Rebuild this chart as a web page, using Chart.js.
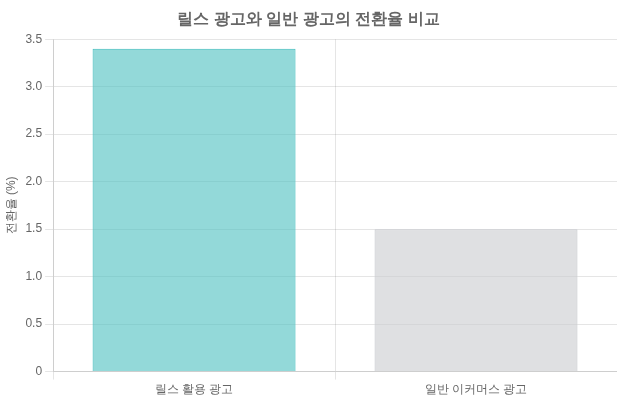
<!DOCTYPE html>
<html lang="ko">
<head>
<meta charset="UTF-8">
<title>릴스 광고와 일반 광고의 전환율 비교</title>
<script src="https://cdn.jsdelivr.net/npm/chart.js"></script>
<style>
  html, body { margin: 0; padding: 0; background: #fff; }
  #wrap { width: 617px; height: 400px; }
</style>
</head>
<body>
<div id="wrap"><canvas id="chart"></canvas></div>
<script>
  const categories = ['릴스 활용 광고', '일반 이커머스 광고'];
  const conversionRates = [3.4, 1.5];
  const barColors = ['rgba(75, 192, 192, 0.6)', 'rgba(201, 203, 207, 0.6)'];
  const borderColors = ['rgba(75, 192, 192, 1)', 'rgba(201, 203, 207, 1)'];

  new Chart(document.getElementById('chart'), {
    type: 'bar',
    data: {
      labels: categories,
      datasets: [{
        label: '전환율 (%)',
        data: conversionRates,
        backgroundColor: barColors,
        borderColor: borderColors,
        borderWidth: 1
      }]
    },
    options: {
      responsive: true,
      maintainAspectRatio: false,
      animation: false,
      plugins: {
        legend: { display: false },
        title: {
          display: true,
          text: '릴스 광고와 일반 광고의 전환율 비교',
          font: { size: 16, weight: 'bold' },
          color: '#666'
        }
      },
      scales: {
        y: {
          beginAtZero: true,
          max: 3.5,
          ticks: { stepSize: 0.5, callback: v => v === 0 ? '0' : v.toFixed(1) },
          title: { display: true, text: '전환율 (%)' }
        }
      }
    }
  });
</script>
</body>
</html>
